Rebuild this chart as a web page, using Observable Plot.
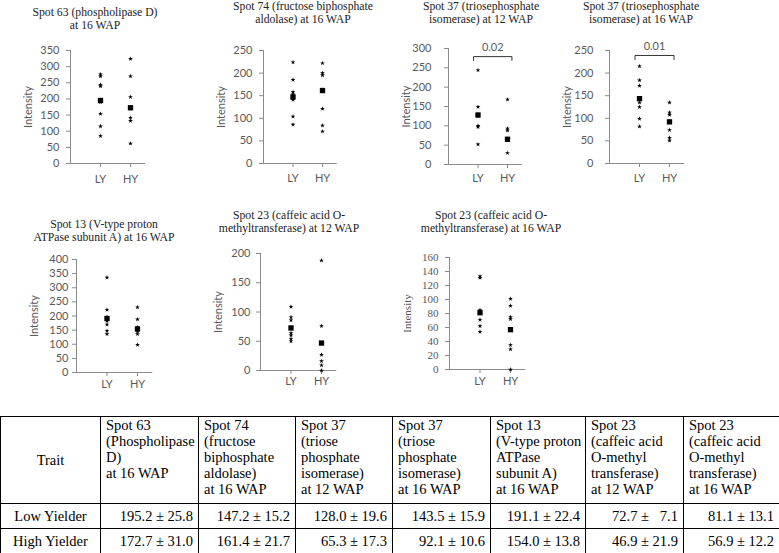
<!DOCTYPE html>
<html><head><meta charset="utf-8">
<script src="https://cdn.jsdelivr.net/npm/d3@7"></script>
<script src="https://cdn.jsdelivr.net/npm/@observablehq/plot@0.6"></script>
<style>
body{margin:0;background:#fff;}
#root{position:relative;width:779px;height:553px;overflow:hidden;background:#fff;}
.title{position:absolute;width:220px;font-family:"Liberation Serif",serif;font-size:11.7px;color:#222;text-align:center;white-space:nowrap;}
.panel{position:absolute;}
.panel svg{overflow:visible;}
table{position:absolute;left:0;top:416px;width:779px;border-collapse:collapse;table-layout:fixed;font-family:"Liberation Serif",serif;font-size:14.5px;color:#000;}
td{border:1px solid #000;padding:0;}
td.h{vertical-align:top;text-align:left;padding-left:5px;line-height:16px;white-space:pre;height:86px;overflow:hidden;}
td.trait{text-align:center;vertical-align:middle;}
td.v{text-align:right;padding-right:5px;height:24px;vertical-align:middle;white-space:pre;}
td.r{text-align:center;vertical-align:middle;height:24px;}
</style></head>
<body><div id="root"></div>
<script>
// ---------- data ----------
const categories = ["LY", "HY"];

// individual spot intensities
const ly1 = [276, 270, 244, 239, 197, 190, 154, 115, 85];
const hy1 = [324, 270, 206, 172, 170, 142, 132, 62];
const ly2 = [224, 185, 158, 153, 148, 141, 104, 86];
const hy2 = [222, 200, 195, 163, 121, 84, 71];
const ly3 = [244, 149, 130, 125, 100, 97, 52];
const hy3 = [168, 93, 88, 66, 63, 30];
const ly4 = [215, 184, 172, 135, 125, 99, 82];
const hy4 = [135, 113, 108, 93, 74, 57, 51];
const ly5 = [336, 222, 196, 182, 170, 148, 136];
const hy5 = [231, 188, 160, 146, 136, 98];
const ly6 = [109, 91, 86, 64, 60, 54, 50];
const hy6 = [188, 76, 27, 16, 9, 0];
const ly7 = [133, 131, 85, 71, 62, 54];
const hy7 = [101, 91, 75, 72, 57, 35, 29, 0];

// means and standard errors
const lyMeans = [195.2, 147.2, 128.0, 143.5, 191.1, 72.7, 81.1];
const lySE    = [25.8, 15.2, 19.6, 15.9, 22.4, 7.1, 13.1];
const hyMeans = [172.7, 161.4, 65.3, 92.1, 154.0, 46.9, 56.9];
const hySE    = [31.0, 21.7, 17.3, 10.6, 13.8, 21.9, 12.2];

// y tick values per panel
const yTicks1 = [0, 50, 100, 150, 200, 250, 300, 350];
const yTicks2 = [0, 50, 100, 150, 200, 250];
const yTicks3 = [0, 50, 100, 150, 200, 250, 300];
const yTicks4 = [0, 50, 100, 150, 200, 250];
const yTicks5 = [0, 50, 100, 150, 200, 250, 300, 350, 400];
const yTicks6 = [0, 50, 100, 150, 200];
const yTicks7 = [0, 20, 40, 60, 80, 100, 120, 140, 160];

const chartTitles = [
  ["Spot 63 (phospholipase D)", "at 16 WAP"],
  ["Spot 74 (fructose biphosphate", "aldolase) at 16 WAP"],
  ["Spot 37 (triosephosphate", "isomerase) at 12 WAP"],
  ["Spot 37 (triosephosphate", "isomerase) at 16 WAP"],
  ["Spot 13 (V-type proton", "ATPase subunit A) at 16 WAP"],
  ["Spot 23 (caffeic acid O-", "methyltransferase) at 12 WAP"],
  ["Spot 23 (caffeic acid O-", "methyltransferase) at 16 WAP"]
];
const yLabel = "Intensity";
const pLabels = [null, null, "0.02", "0.01", null, null, null];
const bracketLevel = [null, null, 279, 239, null, null, null];
const bracketDrop  = [null, null, 10, 9, null, null, null];

const tableHeaders = [
  "Spot 63\n(Phospholipase\nD)\nat 16 WAP",
  "Spot 74\n(fructose\nbiphosphate\naldolase)\nat 16 WAP",
  "Spot 37\n(triose\nphosphate\nisomerase)\nat 12 WAP",
  "Spot 37\n(triose\nphosphate\nisomerase)\nat 16 WAP",
  "Spot 13\n(V-type proton\nATPase\nsubunit A)\nat 16 WAP",
  "Spot 23\n(caffeic acid\nO-methyl\ntransferase)\nat 12 WAP",
  "Spot 23\n(caffeic acid\nO-methyl\ntransferase)\nat 16 WAP"
];
const traitLabel = "Trait";
const rowLabels = ["Low Yielder", "High Yielder"];

// ---------- layout ----------
const lyData = [ly1, ly2, ly3, ly4, ly5, ly6, ly7];
const hyData = [hy1, hy2, hy3, hy4, hy5, hy6, hy7];
const tickSets = [yTicks1, yTicks2, yTicks3, yTicks4, yTicks5, yTicks6, yTicks7];
const layout = [
  {axisX: 70,  unit: 30,   yTop: 50,  yBot: 163, pad: 7,  xPad: 8, tx: 95,  ty: 12, font: "Lato"},
  {axisX: 263, unit: 29.5, yTop: 50,  yBot: 163, pad: 7,  xPad: 7, tx: 303, ty: 6,  font: "Lato"},
  {axisX: 448, unit: 29.5, yTop: 48,  yBot: 164, pad: 13, xPad: 6, tx: 481, ty: 6,  font: "Lato"},
  {axisX: 609, unit: 30,   yTop: 50,  yBot: 163, pad: 12, xPad: 7, tx: 641, ty: 6.5, font: "Lato"},
  {axisX: 76,  unit: 30.5, yTop: 259, yBot: 372, pad: 4,  xPad: 4, tx: 104, ty: 224, font: "Lato"},
  {axisX: 260, unit: 30.5, yTop: 253, yBot: 370, pad: 6,  xPad: 3, tx: 289, ty: 215, font: "Lato"},
  {axisX: 449, unit: 30.5, yTop: 257, yBot: 369, pad: 7,  xPad: 4, tx: 491, ty: 215, font: "Liberation Serif"}
];
const axisColor = "#8a8a8a";
const textColor = "#595959";
const root = document.getElementById("root");

layout.forEach((L, i) => {
  const ticks = tickSets[i];
  const yMax = ticks[ticks.length - 1];
  const pts = [
    ...lyData[i].map(v => ({x: 1, y: v})),
    ...hyData[i].map(v => ({x: 2, y: v}))
  ];
  const means = [{x: 1, y: lyMeans[i]}, {x: 2, y: hyMeans[i]}];
  const mL = 56, mR = 12, mT = 24, mB = 30;
  const marks = [
    Plot.ruleX([0], {y1: 0, y2: yMax, stroke: axisColor}),
    Plot.ruleY([0], {x1: 0, x2: 2.5, stroke: axisColor}),
    Plot.axisY({ticks, tickSize: 4, tickPadding: L.pad, stroke: axisColor, fill: textColor,
      fontFamily: L.font, fontSize: 11, label: yLabel, labelAnchor: "center", labelArrow: "none",
      labelOffset: 46}),
    Plot.axisX({ticks: [1, 2], tickFormat: d => categories[d - 1], tickSize: 4, tickPadding: L.xPad,
      stroke: axisColor, fill: textColor, fontFamily: "Lato", fontSize: 11, label: null}),
    Plot.dot(pts, {x: "x", y: "y", symbol: "star", r: 1.5, fill: "#000", stroke: "none"}),
    Plot.dot(means, {x: "x", y: "y", symbol: "square", r: 3.0, fill: "#000", stroke: "none"})
  ];
  if (pLabels[i]) {
    const lv = bracketLevel[i], dr = bracketDrop[i];
    const br = [{x: 0.85, y: lv - dr}, {x: 0.85, y: lv}, {x: 2.15, y: lv}, {x: 2.15, y: lv - dr}];
    marks.push(Plot.line(br, {x: "x", y: "y", stroke: "#333", strokeWidth: 1}));
    marks.push(Plot.text([{x: 1.5, y: lv, t: pLabels[i]}], {x: "x", y: "y", text: "t", dy: -9,
      fill: textColor, fontFamily: "Lato", fontSize: 11}));
  }
  const svg = Plot.plot({
    width: mL + 2.5 * L.unit + mR,
    height: mT + (L.yBot - L.yTop) + mB,
    marginLeft: mL, marginRight: mR, marginTop: mT, marginBottom: mB,
    x: {domain: [0, 2.5]},
    y: {domain: [0, yMax]},
    style: {background: "transparent", overflow: "visible"},
    marks
  });
  const div = document.createElement("div");
  div.className = "panel";
  div.style.left = (L.axisX - mL) + "px";
  div.style.top = (L.yTop - mT) + "px";
  div.appendChild(svg);
  root.appendChild(div);

  const t = document.createElement("div");
  t.className = "title";
  t.style.left = (L.tx - 110) + "px";
  t.style.top = (L.ty - 6.5) + "px";
  t.style.lineHeight = "13px";
  t.innerHTML = chartTitles[i].join("<br>");
  root.appendChild(t);
});

// ---------- table ----------
const colWidths = [100, 98, 97, 97, 98, 95, 98, 96];
const fmt = (m, s) => {
  const ms = m.toFixed(1), ss = s.toFixed(1);
  return ms + " \u00b1 " + (ss.length < 4 ? "  " : "") + ss;
};
const table = document.createElement("table");
const cg = document.createElement("colgroup");
colWidths.forEach(w => { const c = document.createElement("col"); c.style.width = w + "px"; cg.appendChild(c); });
table.appendChild(cg);
const hr = document.createElement("tr");
const th0 = document.createElement("td"); th0.className = "trait"; th0.textContent = traitLabel; hr.appendChild(th0);
tableHeaders.forEach(h => { const td = document.createElement("td"); td.className = "h"; td.textContent = h; hr.appendChild(td); });
table.appendChild(hr);
[[lyMeans, lySE], [hyMeans, hySE]].forEach(([M, S], r) => {
  const tr = document.createElement("tr");
  const c0 = document.createElement("td"); c0.className = "r"; c0.textContent = rowLabels[r]; tr.appendChild(c0);
  M.forEach((m, j) => { const td = document.createElement("td"); td.className = "v"; td.textContent = fmt(m, S[j]); tr.appendChild(td); });
  table.appendChild(tr);
});
root.appendChild(table);
</script></body></html>
